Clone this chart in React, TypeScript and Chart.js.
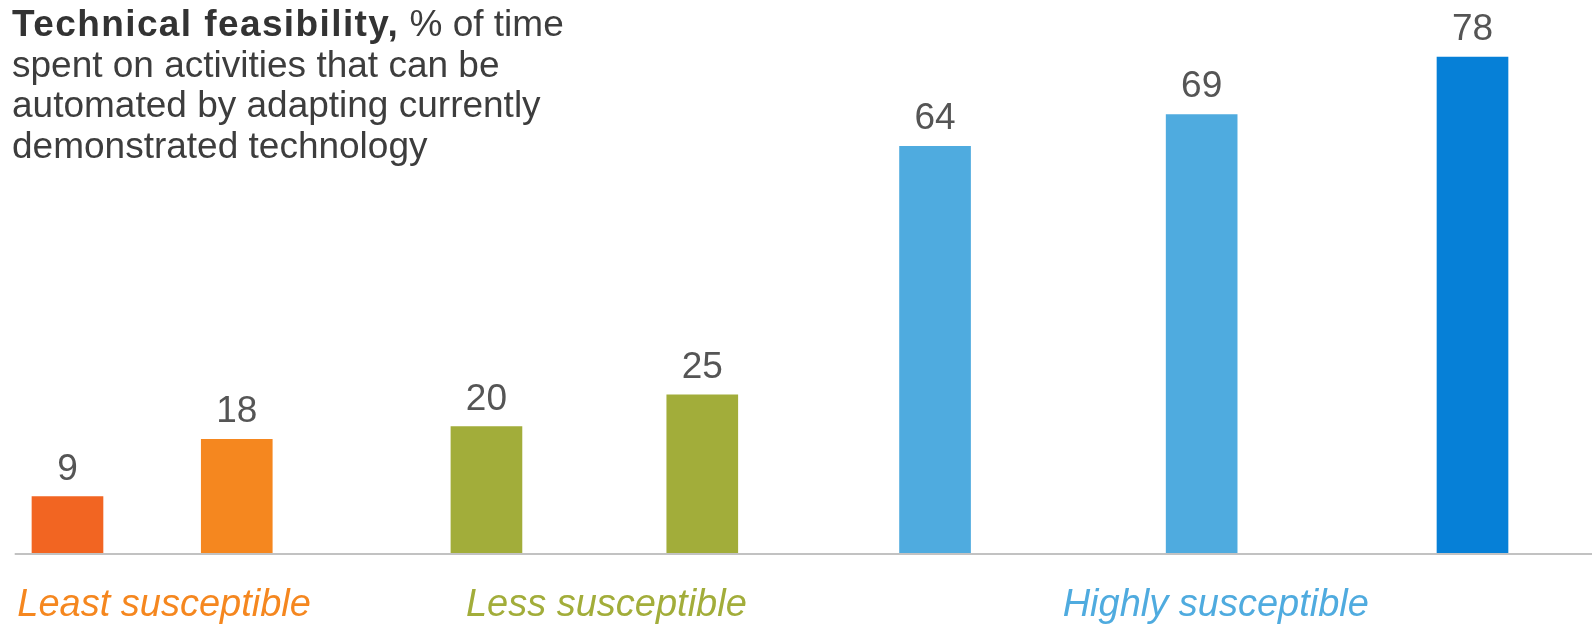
import React, { useEffect, useRef } from "react";
import { Chart, registerables } from "chart.js";

Chart.register(...registerables);

// ---- data ----
const barValues = [9, 18, 20, 25, 64, 69, 78];
const barGroups = [0, 0, 1, 1, 2, 2, 2];
const groupLabels = ["Least susceptible", "Less susceptible", "Highly susceptible"];
const titleBold = "Technical feasibility,";
const titleRest = " % of time";
const titleLines = [
  "spent on activities that can be",
  "automated by adapting currently",
  "demonstrated technology",
];

// ---- styles ----
const barColors = ["#F26522", "#F5871F", "#A2AD3A", "#A2AD3A", "#4FABDF", "#4FABDF", "#0680D7"];
const groupColors = ["#F5871F", "#A2AD3A", "#4FABDF"];
const FONT = '"Liberation Sans", Arial, Helvetica, sans-serif';

// ---- layout (uneven spacing between bars, in slots) ----
const LEAD_SLOTS = 12;
const GAP_SLOTS = [40, 59, 51, 55, 63, 64];
const TRAIL_SLOTS = 28;

function buildSlots() {
  const idx: number[] = [LEAD_SLOTS];
  GAP_SLOTS.forEach((g) => idx.push(idx[idx.length - 1] + g));
  const total = idx[idx.length - 1] + TRAIL_SLOTS + 1;
  const labels: string[] = new Array(total).fill("");
  const data: (number | null)[] = new Array(total).fill(null);
  const colors: string[] = new Array(total).fill("transparent");
  idx.forEach((k, i) => {
    data[k] = barValues[i];
    colors[k] = barColors[i];
  });
  return { idx, labels, data, colors };
}

const SLOTS = buildSlots();

const textPlugin = {
  id: "textPlugin",
  afterDatasetsDraw(chart: any) {
    const { ctx, chartArea, scales } = chart;
    const meta = chart.getDatasetMeta(0);
    const idx = SLOTS.idx;
    const y0 = scales.y.getPixelForValue(0);
    ctx.save();
    // baseline
    ctx.strokeStyle = "#c2c2c2";
    ctx.lineWidth = 2;
    ctx.beginPath();
    ctx.moveTo(chartArea.left - 2, y0);
    ctx.lineTo(chart.width, y0);
    ctx.stroke();

    // value labels
    ctx.font = `37px ${FONT}`;
    ctx.fillStyle = "#555555";
    ctx.textAlign = "center";
    ctx.textBaseline = "alphabetic";
    const centers: number[] = [];
    idx.forEach((k: number, i: number) => {
      const el = meta.data[k];
      centers.push(el.x);
      ctx.fillText(String(barValues[i]), el.x, el.y - 17);
    });

    // group labels
    ctx.font = `italic 38px ${FONT}`;
    groupLabels.forEach((g, gi) => {
      const xs = centers.filter((_, i) => barGroups[i] === gi);
      const cx = (Math.min(...xs) + Math.max(...xs)) / 2 + 12;
      ctx.fillStyle = groupColors[gi];
      ctx.fillText(g, cx, y0 + 62);
    });

    // title
    ctx.textAlign = "left";
    const tx = 12;
    const lh = 40.6;
    let by = 36;
    ctx.font = `bold 37px ${FONT}`;
    ctx.fillStyle = "#333333";
    (ctx as any).letterSpacing = "1.4px";
    ctx.fillText(titleBold, tx, by);
    const w = ctx.measureText(titleBold).width;
    (ctx as any).letterSpacing = "0px";
    ctx.font = `37px ${FONT}`;
    ctx.fillStyle = "#3d3d3d";
    ctx.fillText(titleRest, tx + w, by);
    titleLines.forEach((l) => {
      by += lh;
      ctx.fillText(l, tx, by);
    });
    ctx.restore();
  },
};

export default function App() {
  const ref = useRef<HTMLCanvasElement>(null);
  useEffect(() => {
    if (!ref.current) return;
    const chart = new Chart(ref.current, {
      type: "bar",
      data: {
        labels: SLOTS.labels,
        datasets: [
          {
            data: SLOTS.data,
            backgroundColor: SLOTS.colors,
            borderWidth: 0,
            barThickness: 71,
          },
        ],
      },
      options: {
        animation: false,
        responsive: false,
        layout: { padding: { left: 16.7, right: 1, top: 44.4, bottom: 73 } },
        plugins: { legend: { display: false }, tooltip: { enabled: false } },
        scales: {
          x: { display: false, offset: false },
          y: { display: false, min: 0, max: 80 },
        },
      },
      plugins: [textPlugin],
    });
    return () => chart.destroy();
  }, []);
  return (
    <div style={{ position: "absolute", left: 0, top: 0, width: 1592, height: 627, background: "#fff" }}>
      <canvas ref={ref} width={1592} height={627} style={{ width: 1592, height: 627 }} />
    </div>
  );
}
